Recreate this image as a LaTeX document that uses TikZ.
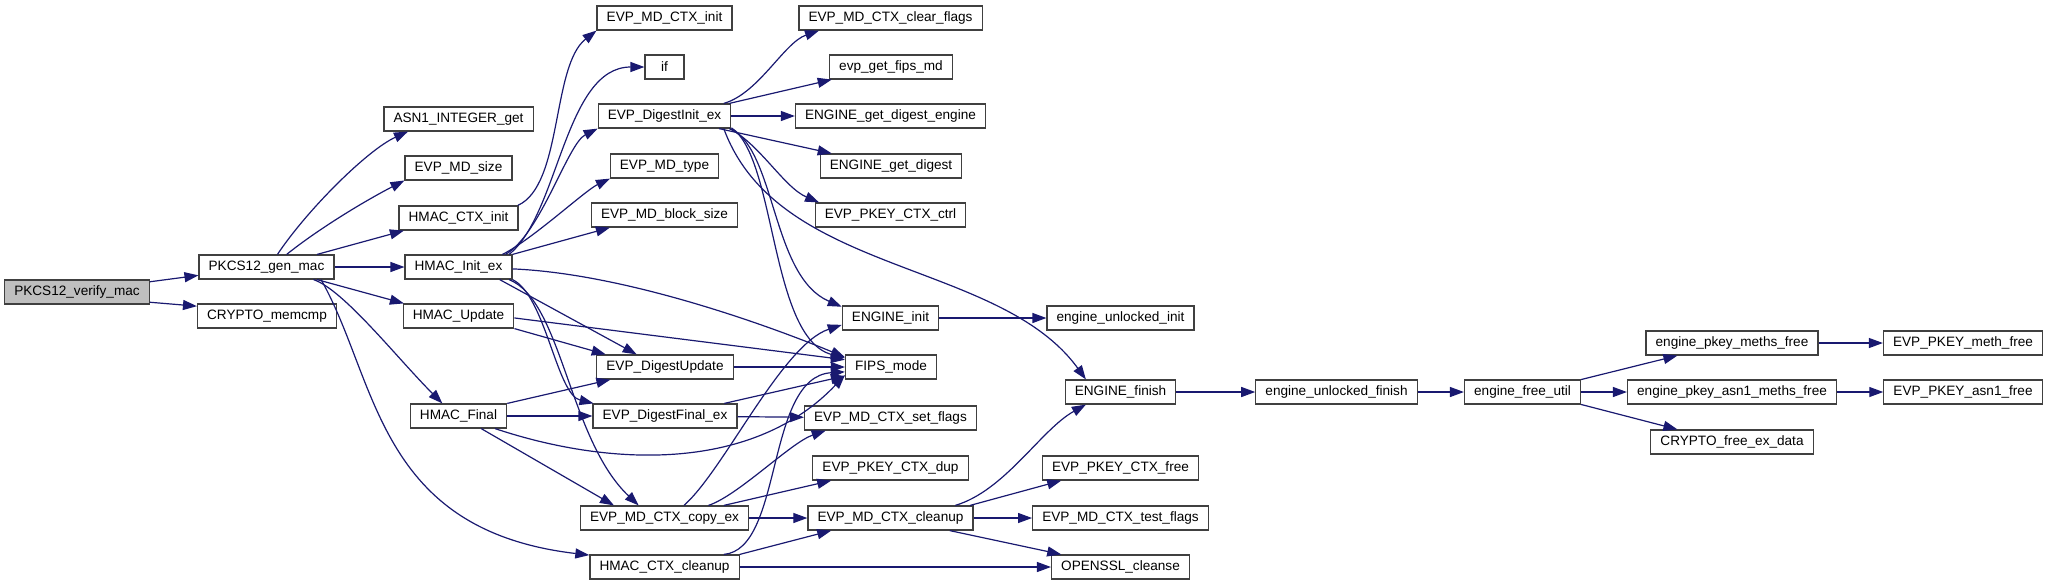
\documentclass[tikz,border=0pt]{standalone}
\usepackage{fontspec}
\setmainfont{Liberation Sans}
\usepackage{tikz}
\usetikzlibrary{arrows.meta}
\definecolor{EdgeBlue}{HTML}{191970}
\definecolor{BoxLine}{HTML}{404040}
\definecolor{RootFill}{HTML}{BFBFBF}

\begin{document}
\begin{tikzpicture}[x=0.5pt,y=-0.5pt,font=\fontsize{6.8}{8}\selectfont,>={Triangle[length=7pt,width=5pt]},
  fn/.style={draw=BoxLine,line width=0.6pt,fill=white,minimum height=12pt,minimum width=19.5pt,inner xsep=4.8pt,inner ysep=0pt},
  root/.style={fn,fill=RootFill},
  cl/.style={->,EdgeBlue,line width=0.6pt}]
  \useasboundingbox (0,0) rectangle (2048,585);
  % callers on the left
  \node[root] (vfy) at (77,292) {PKCS12\_verify\_mac};
  \node[fn] (gen) at (266.5,267) {PKCS12\_gen\_mac};
  \node[fn] (memcmp) at (267,316) {CRYPTO\_memcmp};
  \node[fn] (asn1) at (458.5,119) {ASN1\_INTEGER\_get};
  \node[fn] (mdsize) at (458.5,168) {EVP\_MD\_size};
  \node[fn] (hinit) at (458.5,218) {HMAC\_CTX\_init};
  \node[fn] (hinitex) at (458.5,267) {HMAC\_Init\_ex};
  \node[fn] (hupd) at (458.5,316) {HMAC\_Update};
  \node[fn] (hfin) at (458.5,416) {HMAC\_Final};
  \node[fn] (mdinit) at (664.5,18) {EVP\_MD\_CTX\_init};
  \node[fn] (ifn) at (664.5,67) {if};
  \node[fn] (dinit) at (664.5,116) {EVP\_DigestInit\_ex};
  \node[fn] (mdtype) at (664.5,166) {EVP\_MD\_type};
  \node[fn] (mdblk) at (664.5,215) {EVP\_MD\_block\_size};
  \node[fn] (dupd) at (665,367) {EVP\_DigestUpdate};
  \node[fn] (dfin) at (665,416) {EVP\_DigestFinal\_ex};
  \node[fn] (mdcopy) at (664.5,518) {EVP\_MD\_CTX\_copy\_ex};
  \node[fn] (hclean) at (664.5,567) {HMAC\_CTX\_cleanup};
  \node[fn] (clrfl) at (890.5,18) {EVP\_MD\_CTX\_clear\_flags};
  \node[fn] (fipsmd) at (891,67) {evp\_get\_fips\_md};
  \node[fn] (gdeng) at (890.5,116) {ENGINE\_get\_digest\_engine};
  \node[fn] (gdig) at (891,166) {ENGINE\_get\_digest};
  \node[fn] (pctrl) at (890.5,215) {EVP\_PKEY\_CTX\_ctrl};
  \node[fn] (einit) at (890.5,318) {ENGINE\_init};
  \node[fn] (fips) at (891,367) {FIPS\_mode};
  \node[fn] (setfl) at (890.5,418) {EVP\_MD\_CTX\_set\_flags};
  \node[fn] (pdup) at (890.5,468) {EVP\_PKEY\_CTX\_dup};
  \node[fn] (mdclean) at (890.5,518) {EVP\_MD\_CTX\_cleanup};
  % engine side
  \node[fn] (uinit) at (1120.5,318) {engine\_unlocked\_init};
  \node[fn] (efin) at (1120.5,392) {ENGINE\_finish};
  \node[fn] (pfree) at (1120.5,468) {EVP\_PKEY\_CTX\_free};
  \node[fn] (testfl) at (1120.5,518) {EVP\_MD\_CTX\_test\_flags};
  \node[fn] (cleanse) at (1120.5,567) {OPENSSL\_cleanse};
  \node[fn] (ufin) at (1336.5,392) {engine\_unlocked\_finish};
  \node[fn] (futil) at (1522.5,392) {engine\_free\_util};
  \node[fn] (pmeth) at (1732,343) {engine\_pkey\_meths\_free};
  \node[fn] (ameth) at (1732,392) {engine\_pkey\_asn1\_meths\_free};
  \node[fn] (exdata) at (1732,442) {CRYPTO\_free\_ex\_data};
  \node[fn] (mfree) at (1963,343) {EVP\_PKEY\_meth\_free};
  \node[fn] (afree) at (1963,392) {EVP\_PKEY\_asn1\_free};

  \draw[cl] (vfy.8) -- (gen.187);
  \draw[cl] (vfy.352) -- (memcmp.172);
  \draw[cl] (gen.49) .. controls +(30,-45) and +(-40,18) .. (asn1.194);
  \draw[cl] (gen.32) .. controls +(35,-28) and +(-35,18) .. (mdsize.193);
  \draw[cl] (gen.14) -- (hinit.193);
  \draw[cl] (gen) -- (hinitex);
  \draw[cl] (gen.346) -- (hupd.167);
  \draw[cl] (gen.345) .. controls +(30,10) and +(-45,-45) .. (hfin.142);
  \draw[cl] (gen.347) .. controls +(57,101) and +(-213,-25) .. (hclean.171);
  \draw[cl] (hinit.12) .. controls +(45,-20) and +(-45,35) .. (mdinit.south west);
  \draw[cl] (hinitex.14) .. controls +(50,-40) and +(-80,0) .. (ifn.west);
  \draw[cl] (hinitex.15) .. controls +(35,-20) and +(-30,15) .. (dinit.south west);
  \draw[cl] (hinitex.16) .. controls +(30,-15) and +(-25,12) .. (mdtype.193);
  \draw[cl] (hinitex.north east) -- (mdblk.193);
  \draw[cl] (hinitex.358) .. controls +(120,5) and +(-60,-25) .. (fips.168);
  \draw[cl] (hinitex.343) -- (dupd.156);
  \draw[cl] (hinitex.south east) .. controls +(33,16) and +(-37,-9) .. (dfin.170);
  \draw[cl] (hinitex.346) .. controls +(53,21) and +(-70,-66) .. (mdcopy.154);
  \draw[cl] (hupd.358) -- (fips.171);
  \draw[cl] (hupd.south east) -- (dupd.168);
  \draw[cl] (hfin.north east) -- (dupd.193);
  \draw[cl] (hfin) -- (dfin);
  \draw[cl] (hfin.341) .. controls +(120,40) and +(-90,95) .. (fips.190);
  \draw[cl] (hfin.331) -- (mdcopy.166);
  \draw[cl] (dinit.12) .. controls +(35,-10) and +(-35,12) .. (clrfl.190);
  \draw[cl] (dinit.11) -- (fipsmd.192);
  \draw[cl] (dinit) -- (gdeng);
  \draw[cl] (dinit.347) -- (gdig.168);
  \draw[cl] (dinit.349) .. controls +(30,15) and +(-35,-15) .. (pctrl.170);
  \draw[cl] (dinit.south east) .. controls +(45,25) and +(-70,-30) .. (einit.167);
  \draw[cl] (dinit.350) .. controls +(45,30) and +(-75,-20) .. (fips.169);
  \draw[cl] (dinit.348) .. controls +(54,147) and +(-87,-120) .. (efin.160);
  \draw[cl] (dupd) -- (fips);
  \draw[cl] (dfin.12) -- (fips.191);
  \draw[cl] (dfin) -- (setfl);
  \draw[cl] (mdcopy.33) .. controls +(40,-35) and +(-60,20) .. (einit.188);
  \draw[cl] (mdcopy.16) .. controls +(30,-10) and +(-35,12) .. (setfl.191);
  \draw[cl] (mdcopy.12) -- (pdup.192);
  \draw[cl] (mdcopy) -- (mdclean);
  \draw[cl] (hclean.12) .. controls +(60,-5) and +(-80,5) .. (fips.186);
  \draw[cl] (hclean.north east) -- (mdclean.192);
  \draw[cl] (hclean) -- (cleanse);
  \draw[cl] (mdclean.11) .. controls +(50,-15) and +(-45,25) .. (efin.200);
  \draw[cl] (mdclean.9) -- (pfree.192);
  \draw[cl] (mdclean) -- (testfl);
  \draw[cl] (mdclean.348) -- (cleanse.168);
  \draw[cl] (einit) -- (uinit);
  \draw[cl] (efin) -- (ufin);
  \draw[cl] (ufin) -- (futil);
  \draw[cl] (futil.12) -- (pmeth.193);
  \draw[cl] (futil) -- (ameth);
  \draw[cl] (futil.348) -- (exdata.167);
  \draw[cl] (pmeth) -- (mfree);
  \draw[cl] (ameth) -- (afree);
\end{tikzpicture}
\end{document}
